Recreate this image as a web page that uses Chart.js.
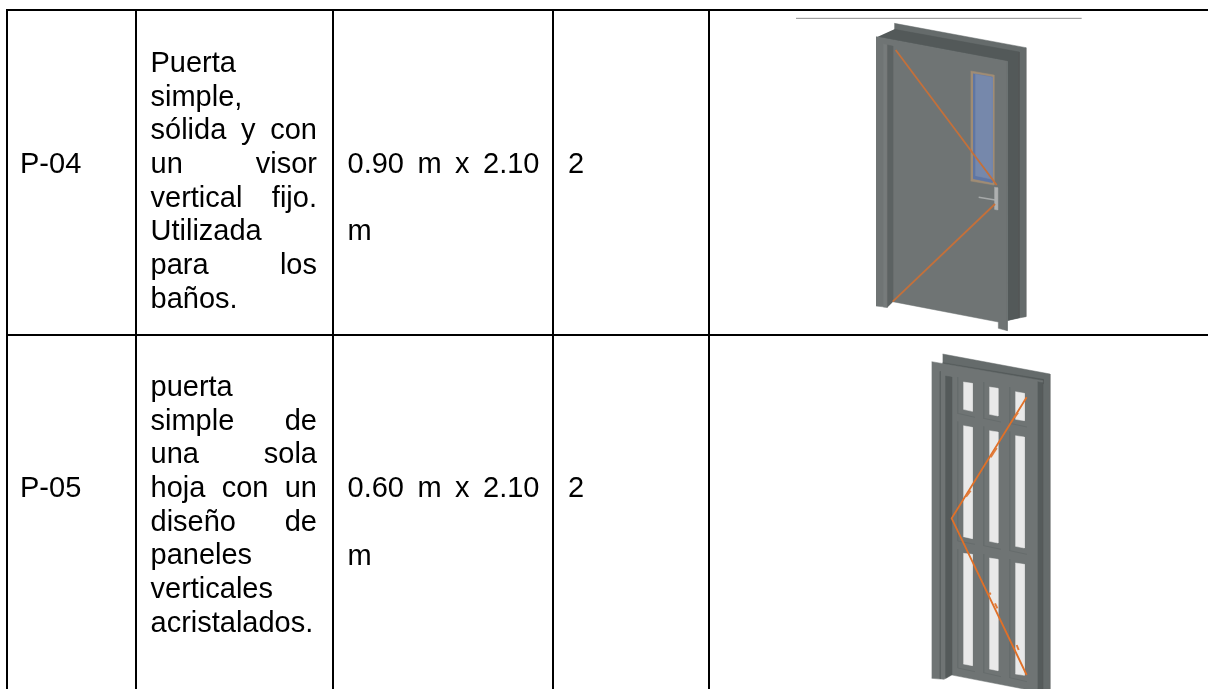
<!DOCTYPE html>
<html lang="es">
<head>
<meta charset="utf-8">
<title>Puertas P-04 y P-05</title>
<script src="https://cdn.jsdelivr.net/npm/chart.js@4/dist/chart.umd.js"></script>
<style>
  html, body { margin: 0; padding: 0; background: #fff; }
  canvas { display: block; }
</style>
</head>
<body>
<canvas id="sheet" width="1208" height="689"></canvas>
<script>
// table text
const codes = ["P-04", "P-05"];
const p04Lines = ["Puerta", "simple,", "sólida y con", "un visor", "vertical fijo.", "Utilizada", "para los", "baños."];
const p05Lines = ["puerta", "simple de", "una sola", "hoja con un", "diseño de", "paneles", "verticales", "acristalados."];
const sizes = [["0.90 m x 2.10", "m"], ["0.60 m x 2.10", "m"]];
const quantities = ["2", "2"];

// table rules, page pixels
const verticalRuleX = [7, 136, 333, 553, 709];
const horizontalRuleY = [10, 335];

const d1TopLine = [[48, 55], [905, 55]];
const d1BackStrip = [[343, 70], [738, 143], [738, 950], [684, 960], [682, 180], [343, 110]];
const d1BackDark = [[343, 88], [718, 156], [718, 953], [682, 962], [682, 185], [290, 112]];
const d1Face = [[288, 110], [682, 184], [682, 992], [655, 985], [655, 966], [338, 905], [322, 922], [288, 918]];
const d1PostLight = [[310, 132], [322, 135], [322, 922], [310, 921]];
const d1PostDark = [[322, 135], [338, 138], [338, 905], [322, 920]];
const d1WindowFrame = [[572, 213], [642, 225], [642, 555], [572, 543]];
const d1Glass = [[579, 221], [637, 231], [637, 548], [579, 536]];
const d1GlassBright = [[586, 223], [637, 232], [637, 538], [586, 527]];
const d1HandlePlate = [[643, 562], [653, 563], [653, 630], [643, 628]];
const d1Lever = [[596, 592], [650, 601]];
const d1BraceTop = [[347, 150], [650, 555]];
const d1BraceBottom = [[338, 905], [645, 612]];

const d2BackStrip = [[188, 42], [510, 102], [510, 1047], [470, 1047], [470, 120], [188, 72]];
const d2BackDark = [[188, 68], [490, 118], [490, 132], [188, 84]];
const d2Face = [[155, 65], [488, 122], [488, 1047], [432, 1047], [205, 1003], [193, 1018], [155, 1015]];
const d2PostLine = [[181, 94], [181, 1016]];
const d2PostDark = [[196, 108], [215, 111], [215, 1005], [196, 1016]];
const d2RightDark = [[473, 125], [488, 128], [488, 1047], [473, 1047]];
const d2Glass = [
  [[250, 126], [277, 130], [277, 214], [250, 208]],
  [[328, 141], [354, 145], [354, 228], [328, 223]],
  [[406, 155], [433, 160], [433, 242], [406, 238]],
  [[250, 257], [277, 262], [277, 596], [250, 590]],
  [[328, 272], [354, 276], [354, 609], [328, 604]],
  [[406, 287], [433, 291], [433, 624], [406, 619]],
  [[250, 640], [277, 643], [277, 977], [250, 972]],
  [[328, 654], [354, 658], [354, 992], [328, 987]],
  [[406, 669], [433, 673], [433, 1006], [406, 1002]]
];
const d2PanelLines = [
  [[233, 112], [233, 220], [285, 232]],
  [[311, 127], [311, 235], [363, 246]],
  [[389, 142], [389, 250], [441, 261]],
  [[233, 245], [233, 603], [285, 613]],
  [[311, 260], [311, 617], [363, 628]],
  [[389, 275], [389, 632], [441, 643]],
  [[233, 627], [233, 984], [285, 995]],
  [[311, 642], [311, 998], [363, 1010]],
  [[389, 657], [389, 1013], [441, 1025]]
];
const d2Brace = [[440, 172], [215, 535], [440, 1005]];
const d2Ticks = [
  [[345, 790], [352, 805]],
  [[410, 915], [416, 930]],
  [[328, 758], [332, 764]],
  [[258, 470], [272, 452]],
  [[332, 352], [350, 324]],
  [[403, 233], [414, 218]]
];

const fromCrop1 = (pts) => pts.map(([x, y]) => ({ x: 780 + x / 3, y: y / 3 }));
const fromCrop2 = (pts) => pts.map(([x, y]) => ({ x: 880 + x / 3, y: 340 + y / 3 }));

function shape(points, color) {
  return {
    data: points, showLine: true, fill: "shape", backgroundColor: color,
    borderColor: color, borderWidth: 0.5, pointRadius: 0, tension: 0
  };
}

function line(points, color, width) {
  return {
    data: points, showLine: true, fill: false,
    borderColor: color, borderWidth: width, pointRadius: 0, tension: 0
  };
}

// listed back to front
const datasets = [
  line(fromCrop1(d1TopLine), "#8c8c8c", 1),
  shape(fromCrop1(d1BackStrip), "#656b6b"),
  shape(fromCrop1(d1BackDark), "#535959"),
  shape(fromCrop1(d1Face), "#6f7474"),
  shape(fromCrop1(d1PostLight), "#767b7b"),
  shape(fromCrop1(d1PostDark), "#5c6262"),
  shape(fromCrop1(d1WindowFrame), "#a08c74"),
  shape(fromCrop1(d1Glass), "#5f76a4"),
  shape(fromCrop1(d1GlassBright), "#7688ab"),
  line(fromCrop1(d1Lever), "#a6a9a9", 1.5),
  shape(fromCrop1(d1HandlePlate), "#aeb0b0"),
  line(fromCrop1(d1BraceTop), "#c4703a", 1.8),
  line(fromCrop1(d1BraceBottom), "#c4703a", 1.8),
  shape(fromCrop2(d2BackStrip), "#656b6b"),
  shape(fromCrop2(d2BackDark), "#535959"),
  shape(fromCrop2(d2Face), "#6f7474"),
  line(fromCrop2(d2PostLine), "#5c6262", 1),
  shape(fromCrop2(d2PostDark), "#545a5a"),
  shape(fromCrop2(d2RightDark), "#555b5b"),
  ...d2PanelLines.map((p) => line(fromCrop2(p), "#666c6c", 1)),
  ...d2Glass.map((p) => shape(fromCrop2(p), "#e9e9e9")),
  line(fromCrop2(d2Brace), "#e07028", 1.8),
  ...d2Ticks.map((p) => line(fromCrop2(p), "#e07c3c", 2))
];

verticalRuleX.forEach((x) => datasets.push(line([{ x, y: 10 }, { x, y: 689 }], "#000", 2)));
horizontalRuleY.forEach((y) => datasets.push(line([{ x: 6, y }, { x: 1208, y }], "#000", 2)));

// text layout
const FONT = '29px "Liberation Sans", Arial, sans-serif';
const LINE_H = 33.65;
const DESC_LEFT = 150.5;
const DESC_RIGHT = 317;
const p04Justified = [false, false, true, true, true, false, true, false];
const p05Justified = [false, true, true, true, true, false, false, false];

function drawJustified(ctx, text, left, right, y) {
  const words = text.split(" ");
  const used = words.reduce((sum, w) => sum + ctx.measureText(w).width, 0);
  const gap = (right - left - used) / (words.length - 1);
  let x = left;
  words.forEach((w) => {
    ctx.fillText(w, x, y);
    x += ctx.measureText(w).width + gap;
  });
}

const tableText = {
  id: "tableText",
  afterDatasetsDraw(chart) {
    const { ctx, scales } = chart;
    const px = (v) => scales.x.getPixelForValue(v);
    const py = (v) => scales.y.getPixelForValue(v);
    ctx.save();
    ctx.font = FONT;
    ctx.fillStyle = "#000";
    ctx.textBaseline = "alphabetic";

    const rows = [
      { lines: p04Lines, justified: p04Justified, top: 72, mid: 172.7 },
      { lines: p05Lines, justified: p05Justified, top: 396, mid: 497 }
    ];
    rows.forEach((row, r) => {
      ctx.fillText(codes[r], px(20), py(row.mid));
      row.lines.forEach((text, i) => {
        const y = py(row.top + i * LINE_H);
        if (row.justified[i]) drawJustified(ctx, text, px(DESC_LEFT), px(DESC_RIGHT), y);
        else ctx.fillText(text, px(DESC_LEFT), y);
      });
      drawJustified(ctx, sizes[r][0], px(347.5), px(539.5), py(row.mid));
      ctx.fillText(sizes[r][1], px(347.5), py(row.mid + 67.6));
      ctx.fillText(quantities[r], px(568), py(row.mid));
    });
    ctx.restore();
  }
};

new Chart(document.getElementById("sheet"), {
  type: "scatter",
  data: { datasets: datasets.reverse() },
  options: {
    responsive: false,
    animation: false,
    layout: { padding: 0 },
    scales: {
      x: { type: "linear", min: 0, max: 1208, display: false },
      y: { type: "linear", min: 0, max: 689, reverse: true, display: false }
    },
    plugins: { legend: { display: false }, tooltip: { enabled: false } }
  },
  plugins: [tableText]
});
</script>
</body>
</html>
